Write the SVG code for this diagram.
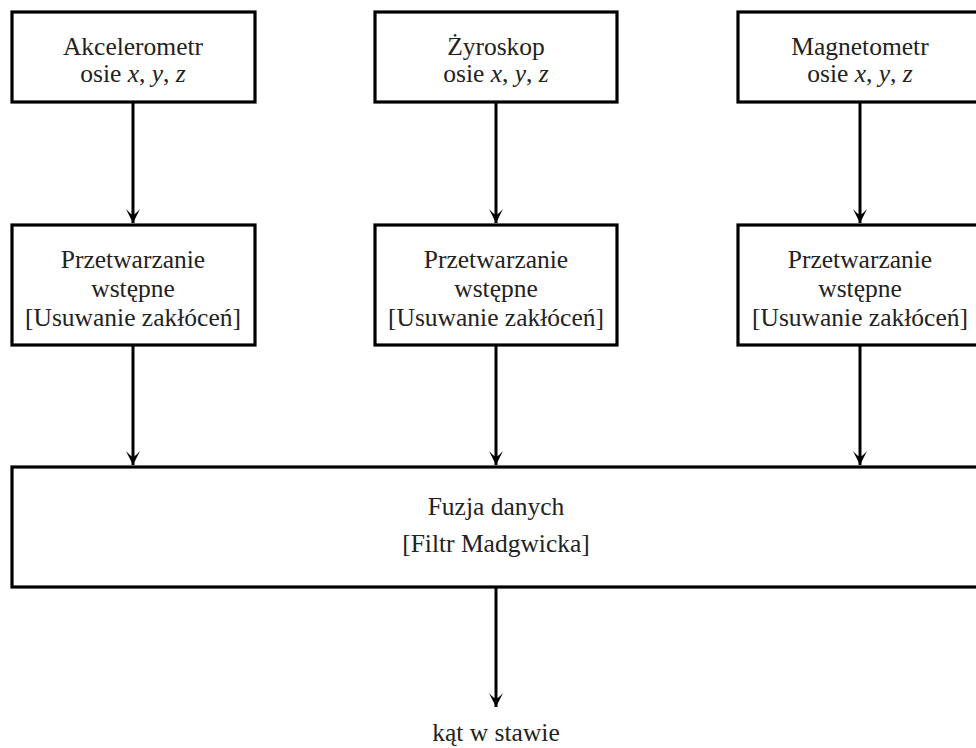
<svg xmlns="http://www.w3.org/2000/svg" width="976" height="748" viewBox="0 0 976 748">
<defs>
<style>
.box{fill:#fff;stroke:#000;stroke-width:3.2}
.t{font-family:"Liberation Serif","Times New Roman",serif;font-size:25.5px;fill:#222;text-anchor:middle}
.m{font-style:italic}
.c{stroke:#000;stroke-width:3;fill:none;marker-end:url(#ah)}
</style>
<marker id="ah" markerUnits="userSpaceOnUse" markerWidth="18" markerHeight="18" viewBox="-15 -9 18 18" refX="0" refY="0" orient="auto">
<path d="M0,0 L-14,-7 Q-8.5,-2 -8.5,0 Q-8.5,2 -14,7 Z" fill="#000"/>
</marker>
</defs>
<rect width="976" height="748" fill="#fff"/>
<g id="connectors">
<line class="c" x1="133" y1="103" x2="133" y2="223"/>
<line class="c" x1="496" y1="103" x2="496" y2="223"/>
<line class="c" x1="860" y1="103" x2="860" y2="223"/>
<line class="c" x1="133" y1="345" x2="133" y2="465"/>
<line class="c" x1="496" y1="345" x2="496" y2="465"/>
<line class="c" x1="860" y1="345" x2="860" y2="465"/>
<line class="c" x1="496" y1="587" x2="496" y2="707"/>
</g>
<g id="acc">
<rect class="box" x="12" y="12" width="243" height="90"/>
<text class="t" x="133" y="55">Akcelerometr</text>
<text class="t" x="133" y="82">osie <tspan class="m">x</tspan>, <tspan class="m">y</tspan>, <tspan class="m">z</tspan></text>
</g>
<g id="gyro">
<rect class="box" x="375" y="12" width="242" height="90"/>
<text class="t" x="496" y="55">Żyroskop</text>
<text class="t" x="496" y="82">osie <tspan class="m">x</tspan>, <tspan class="m">y</tspan>, <tspan class="m">z</tspan></text>
</g>
<g id="mag">
<rect class="box" x="738" y="12" width="244" height="90"/>
<text class="t" x="860" y="55">Magnetometr</text>
<text class="t" x="860" y="82">osie <tspan class="m">x</tspan>, <tspan class="m">y</tspan>, <tspan class="m">z</tspan></text>
</g>
<g id="pre1">
<rect class="box" x="12" y="225" width="243" height="120"/>
<text class="t" x="133" y="268">Przetwarzanie</text>
<text class="t" x="133" y="297">wstępne</text>
<text class="t" x="133" y="326">[Usuwanie zakłóceń]</text>
</g>
<g id="pre2">
<rect class="box" x="375" y="225" width="242" height="120"/>
<text class="t" x="496" y="268">Przetwarzanie</text>
<text class="t" x="496" y="297">wstępne</text>
<text class="t" x="496" y="326">[Usuwanie zakłóceń]</text>
</g>
<g id="pre3">
<rect class="box" x="738" y="225" width="244" height="120"/>
<text class="t" x="860" y="268">Przetwarzanie</text>
<text class="t" x="860" y="297">wstępne</text>
<text class="t" x="860" y="326">[Usuwanie zakłóceń]</text>
</g>
<g id="fusion">
<rect class="box" x="12" y="467" width="970" height="120"/>
<text class="t" x="496" y="515">Fuzja danych</text>
<text class="t" x="496" y="552">[Filtr Madgwicka]</text>
</g>
<g id="output">
<text class="t" x="496" y="741">kąt w stawie</text>
</g>
</svg>
